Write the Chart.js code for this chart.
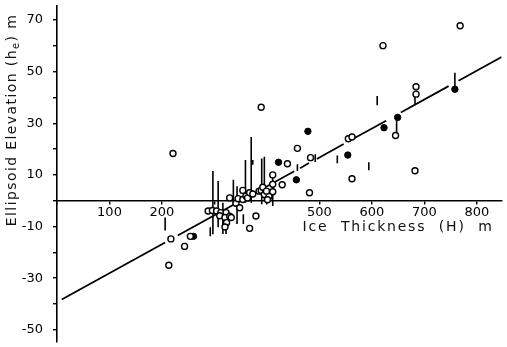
<!DOCTYPE html>
<html>
<head>
<meta charset="utf-8">
<script src="https://cdn.jsdelivr.net/npm/chart.js@4"></script>
<style>
  html, body { margin: 0; padding: 0; background: #fff; }
  #wrap { width: 507px; height: 347px; position: relative; }
</style>
</head>
<body>
<div id="wrap"><canvas id="c"></canvas></div>
<script>
// ---- data ----
const openX = [221, 389, 621, 768, 684, 684, 645, 682, 555, 562, 562, 458, 483, 439, 411, 411, 411, 429, 481, 379, 367, 217, 243, 213, 254,
  288, 296, 304, 312, 322, 310, 320, 329, 323, 320, 332, 329, 341, 345, 348, 354, 354, 360, 363, 367, 373, 385, 389, 392, 395, 399, 404, 401];
const openY = [18.3, 36.2, 60.1, 67.8, 44.2, 41.3, 25.3, 11.6, 24.0, 24.7, 8.5, 20.3, 16.7, 14.3, 10.0, 6.4, 3.5, 6.2, 3.1, -5.9, -10.7, -14.8, -17.7, -25.0, -13.8,
  -4.0, -3.8, -4.0, -4.6, -4.6, -5.8, -6.5, -6.0, -8.5, -10.2, -6.5, 1.1, -1.0, 0.8, -2.7, 4.0, 0.5, 1.8, 1.1, 3.1, 2.6, 3.7, 4.0, 5.2, 2.4, 3.7, 1.6, 0.4];

const filledX = [478, 422, 456, 554, 623, 649, 758, 260];
const filledY = [26.9, 14.9, 8.1, 17.7, 28.3, 32.3, 43.2, -13.8];

const barX      = [206, 292, 297, 307, 316, 322, 336, 343, 355, 359, 370, 373, 390, 395, 411, 458, 492, 534, 594, 610, 647, 758, 682];
const barTop    = [-6.5, -10.3, 11.5, 7.6, -0.8, -3.9, 8.1, 5.6, -5.2, 15.8, 24.7, 15.8, 16.4, 17.0, 10.0, 14.1, 18.0, 17.5, 14.9, 40.6, 32.0, 49.6, 41.0];
const barBottom = [-11.5, -13.8, -13.0, -10.3, -12.9, -12.9, -2.0, -9.0, -9.0, -0.8, -0.8, 13.9, -1.4, 0.5, -2.0, 11.5, 15.0, 14.5, 11.8, 37.0, 25.3, 43.2, 37.5];

// fitted line, drawn in broken pieces as in the figure (null = gap)
const lineX = [9, 206, null, 230, 452, null, 463, 480, null, 495, 546, null, 567, 627, null, 655, 746, null, 765, 847];
const lineY = [-38.3, -16.2, null, -13.5, 11.4, null, 12.6, 14.6, null, 16.2, 22.0, null, 24.3, 31.0, null, 34.2, 44.4, null, 46.5, 55.7];

const xTickLabels = [100, 200, 500, 600, 700, 800];
const yTickLabels = [70, 50, 30, 10, -10, -30, -50];
const xTitle = 'Ice  Thickness  (H)  m';
const yTitleParts = ['Ellipsoid Elevation (h', 'e', ') m'];

// ---- build datasets ----
const openPts = openX.map((x, i) => ({x, y: openY[i]}));
const filledPts = filledX.map((x, i) => ({x, y: filledY[i]}));
const barPts = [];
barX.forEach((x, i) => {
  barPts.push({x, y: barTop[i]}, {x, y: barBottom[i]}, {x, y: null});
});
const linePts = lineX.map((x, i) => (x === null ? {x: lineX[i - 1] + 1, y: null} : {x, y: lineY[i]}));

const FONT = '"DejaVu Sans", sans-serif';

const titlePlugin = {
  id: 'axisTitles',
  afterDraw(chart) {
    const ctx = chart.ctx;
    const xs = chart.scales.x, ys = chart.scales.y;
    ctx.save();
    ctx.fillStyle = '#111';
    ctx.font = '14px ' + FONT;
    if ('letterSpacing' in ctx) ctx.letterSpacing = '1.8px';
    ctx.textBaseline = 'middle';
    ctx.textAlign = 'right';
    ctx.fillText(xTitle, xs.right - 8, ys.getPixelForValue(0) + 27);

    // y title, rotated, with subscript
    if ('letterSpacing' in ctx) ctx.letterSpacing = '1.4px';
    ctx.translate(12, ys.getPixelForValue(31.3));
    ctx.rotate(-Math.PI / 2);
    ctx.textAlign = 'left';
    const big = '14px ' + FONT, small = '10px ' + FONT;
    ctx.font = big; const w0 = ctx.measureText(yTitleParts[0]).width;
    ctx.font = small; const w1 = ctx.measureText(yTitleParts[1]).width;
    ctx.font = big; const w2 = ctx.measureText(yTitleParts[2]).width;
    let x0 = -(w0 + w1 + w2) / 2;
    ctx.font = big; ctx.fillText(yTitleParts[0], x0, 0);
    ctx.font = small; ctx.fillText(yTitleParts[1], x0 + w0, 4);
    ctx.font = big; ctx.fillText(yTitleParts[2], x0 + w0 + w1, 0);
    ctx.restore();
  }
};

new Chart(document.getElementById('c'), {
  type: 'scatter',
  data: {
    datasets: [
      { label: 'open', data: openPts, pointStyle: 'circle', pointRadius: 3, pointBorderWidth: 1.4,
        pointBackgroundColor: '#fff', pointBorderColor: '#000', showLine: false },
      { label: 'filled', data: filledPts, pointStyle: 'circle', pointRadius: 3.2, pointBorderWidth: 1,
        pointBackgroundColor: '#000', pointBorderColor: '#000', showLine: false },
      { label: 'bars', data: barPts, showLine: true, spanGaps: false, pointRadius: 0,
        borderColor: '#000', borderWidth: 1.6 },
      { label: 'fit', data: linePts, showLine: true, spanGaps: false, pointRadius: 0,
        borderColor: '#000', borderWidth: 1.8 }
    ]
  },
  options: {
    responsive: true,
    maintainAspectRatio: false,
    animation: false,
    events: [],
    layout: { padding: { top: 5, bottom: 2, left: 0, right: 0 } },
    plugins: { legend: { display: false }, tooltip: { enabled: false }, title: { display: false } },
    scales: {
      x: {
        type: 'linear',
        position: { y: 0 },
        min: 0, max: 847,
        afterFit: (scale) => { scale.paddingLeft = 0; scale.paddingRight = 0; },
        border: { display: true, color: '#000', width: 1.6 },
        grid: { display: true, drawOnChartArea: false, drawTicks: true, tickLength: 3, color: '#000', lineWidth: 1.4 },
        ticks: {
          stepSize: 100, maxTicksLimit: 20, includeBounds: false, autoSkip: false, maxRotation: 0,
          color: '#000', padding: 1, font: { family: FONT, size: 13 },
          callback: (v) => (xTickLabels.includes(Math.round(v)) ? String(Math.round(v)) : '')
        }
      },
      y: {
        type: 'linear',
        position: 'left',
        min: -54.6, max: 75.7,
        afterFit: (scale) => { scale.width = 57; scale.paddingTop = 0; scale.paddingBottom = 0; },
        border: { display: true, color: '#000', width: 1.6 },
        grid: { display: true, drawOnChartArea: false, drawTicks: true, tickLength: 4, color: '#000', lineWidth: 1.4 },
        ticks: {
          stepSize: 10, maxTicksLimit: 20, includeBounds: false, autoSkip: false,
          color: '#000', padding: 10, font: { family: FONT, size: 13 },
          callback: (v) => (yTickLabels.includes(Math.round(v)) ? String(Math.round(v)) : '')
        }
      }
    }
  },
  plugins: [titlePlugin]
});
</script>
</body>
</html>
